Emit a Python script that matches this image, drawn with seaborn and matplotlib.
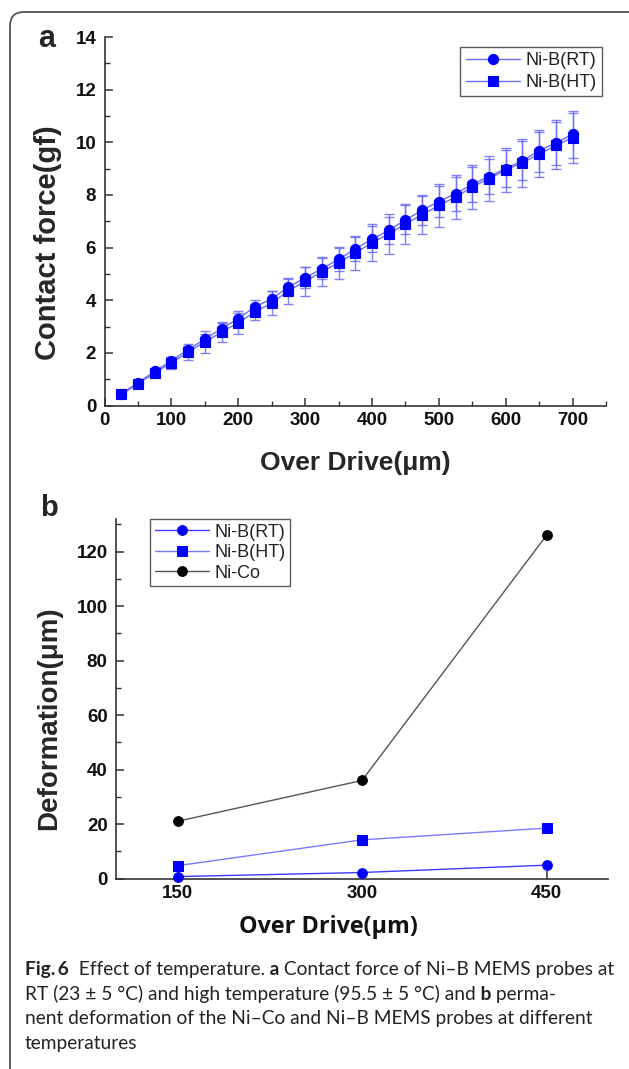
import numpy as np
import pandas as pd
import matplotlib
matplotlib.use("Agg")
import matplotlib.pyplot as plt
import seaborn as sns
from matplotlib.ticker import MultipleLocator
from matplotlib.path import Path
from matplotlib.patches import PathPatch

# ---- data: panel a (contact force vs over drive) ----
over_drive_a = [25, 50, 75, 100, 125, 150, 175, 200, 225, 250, 275, 300, 325, 350,
                375, 400, 425, 450, 475, 500, 525, 550, 575, 600, 625, 650, 675, 700]
force_rt = [0.45, 0.86, 1.30, 1.70, 2.12, 2.52, 2.92, 3.30, 3.75, 4.05, 4.50, 4.85, 5.20, 5.55,
            5.95, 6.32, 6.65, 7.05, 7.42, 7.75, 8.05, 8.40, 8.70, 9.00, 9.30, 9.68, 9.98, 10.30]
force_ht = [0.42, 0.82, 1.25, 1.62, 2.02, 2.42, 2.78, 3.15, 3.55, 3.90, 4.35, 4.72, 5.08, 5.42,
            5.80, 6.18, 6.52, 6.90, 7.25, 7.60, 7.92, 8.30, 8.62, 8.95, 9.22, 9.55, 9.88, 10.18]
err_rt = [0.08, 0.10, 0.12, 0.15, 0.15, 0.18, 0.20, 0.20, 0.25, 0.30, 0.30, 0.40, 0.40, 0.45,
          0.45, 0.50, 0.50, 0.55, 0.55, 0.60, 0.65, 0.65, 0.65, 0.70, 0.75, 0.80, 0.85, 0.90]
err_ht = [0.10, 0.12, 0.15, 0.22, 0.30, 0.42, 0.38, 0.45, 0.30, 0.45, 0.50, 0.55, 0.55, 0.60,
          0.65, 0.70, 0.75, 0.75, 0.75, 0.80, 0.85, 0.85, 0.85, 0.85, 0.90, 0.85, 0.90, 0.95]

# ---- data: panel b (permanent deformation) ----
over_drive_b = [150, 300, 450]
deform_rt = [0.7, 2.2, 4.9]
deform_ht = [4.7, 14.2, 18.5]
deform_nico = [21.0, 36.0, 126.0]

W, H = 629, 1069

sns.set_theme(style="ticks")
plt.rcParams["font.family"] = ["Liberation Sans", "DejaVu Sans"]
plt.rcParams["xtick.direction"] = "in"
plt.rcParams["ytick.direction"] = "in"
plt.rcParams["axes.edgecolor"] = "#333333"

fig = plt.figure(figsize=(W / 100, H / 100), dpi=100)
fig.patch.set_facecolor("white")


def px_axes(left, right, top, bottom):
    return fig.add_axes([left / W, 1 - bottom / H, (right - left) / W, (bottom - top) / H])


def style_axes(ax, size=13.5):
    sns.despine(ax=ax)
    for s in ["left", "bottom"]:
        ax.spines[s].set_linewidth(1.2)
    ax.tick_params(which="major", length=6, width=1.1, color="#333333", labelsize=size)
    ax.tick_params(which="minor", length=3.5, width=1.0, color="#333333")
    ax.tick_params(axis="y", pad=6)
    ax.tick_params(axis="x", pad=5)
    for lab in ax.get_xticklabels() + ax.get_yticklabels():
        lab.set_fontweight("bold")
        lab.set_color("#111111")


def style_legend(leg):
    leg.get_frame().set_edgecolor("#333333")
    leg.get_frame().set_linewidth(1.0)
    for t in leg.get_texts():
        t.set_color("#222222")


blue = "#0000ff"
light = "#6b6bff"

# ---------------- panel a ----------------
ax_a = px_axes(104.5, 606, 37, 405.5)
df_a = pd.DataFrame({"x": over_drive_a * 2,
                     "y": force_rt + force_ht,
                     "series": ["Ni-B(RT)"] * len(over_drive_a) + ["Ni-B(HT)"] * len(over_drive_a)})

for name, errs, mk in [("Ni-B(RT)", err_rt, "o"), ("Ni-B(HT)", err_ht, "s")]:
    sub = df_a[df_a["series"] == name]
    ax_a.errorbar(sub["x"], sub["y"], yerr=errs, fmt="none", ecolor=light,
                  elinewidth=1.0, capsize=3.5, capthick=1.0, alpha=0.85, zorder=2)
    sns.lineplot(data=sub, x="x", y="y", ax=ax_a, color=light, linewidth=1.0,
                 marker=mk, markersize=7.3, markerfacecolor=blue, markeredgecolor=blue,
                 markeredgewidth=0.8, label=name, errorbar=None, zorder=3)

ax_a.set_xlim(0, 750)
ax_a.set_ylim(0, 14)
ax_a.xaxis.set_major_locator(MultipleLocator(100))
ax_a.xaxis.set_minor_locator(MultipleLocator(50))
ax_a.yaxis.set_major_locator(MultipleLocator(2))
ax_a.yaxis.set_minor_locator(MultipleLocator(1))
style_axes(ax_a)
ax_a.set_xlabel("Over Drive(\u03bcm)", fontsize=19, fontweight="bold", va="center")
ax_a.set_ylabel("Contact force(gf)", fontsize=21, fontweight="bold", va="center")
ax_a.xaxis.set_label_coords(0.4995, -0.156)
ax_a.yaxis.set_label_coords(-0.1117, 0.441)
leg = ax_a.legend(loc="upper right", bbox_to_anchor=(1 - 4 / 501.5, 1 - 10 / 368.5),
                  fontsize=13, frameon=True, fancybox=False, handlelength=3.0,
                  handletextpad=0.3, borderpad=0.3, labelspacing=0.25, borderaxespad=0)
style_legend(leg)

# ---------------- panel b ----------------
ax_b = px_axes(116, 608, 519, 878.5)
df_b = pd.DataFrame({"x": over_drive_b * 3,
                     "y": deform_rt + deform_ht + deform_nico,
                     "series": ["Ni-B(RT)"] * 3 + ["Ni-B(HT)"] * 3 + ["Ni-Co"] * 3})
b_styles = {"Ni-B(RT)": ("#3a3aff", blue, "o"),
            "Ni-B(HT)": ("#7a7aff", blue, "s"),
            "Ni-Co": ("#555555", "black", "o")}
for name, (lc, mc, mk) in b_styles.items():
    sub = df_b[df_b["series"] == name]
    sns.lineplot(data=sub, x="x", y="y", ax=ax_b, color=lc, linewidth=1.0,
                 marker=mk, markersize=7, markerfacecolor=mc, markeredgecolor=mc,
                 label=name, errorbar=None, clip_on=False, zorder=3)

ax_b.set_xlim(100, 500)
ax_b.set_ylim(0, 132)
ax_b.set_xticks(over_drive_b)
ax_b.yaxis.set_major_locator(MultipleLocator(20))
ax_b.yaxis.set_minor_locator(MultipleLocator(10))
style_axes(ax_b)
ax_b.set_xlabel("Over Drive(\u03bcm)", fontsize=16.8, fontweight="bold",
                family=["Open Sans", "DejaVu Sans"], va="center", color="#111111")
ax_b.set_ylabel("Deformation(\u03bcm)", fontsize=20, fontweight="bold", va="center")
ax_b.xaxis.set_label_coords((328 - 116) / 492, -0.135)
ax_b.yaxis.set_label_coords(-0.136, 0.4465)
leg = ax_b.legend(loc="upper left", bbox_to_anchor=(34 / 492, 1.0),
                  fontsize=13, frameon=True, fancybox=False, handlelength=3.0,
                  handletextpad=0.3, borderpad=0.25, labelspacing=0.2, borderaxespad=0)
style_legend(leg)

# panel letters
fig.text(47 / W, 1 - 39 / H, "a", fontsize=22, fontweight="bold", ha="center", va="center")
fig.text(49 / W, 1 - 508 / H, "b", fontsize=21, fontweight="bold", ha="center", va="center")

# ---------------- caption ----------------
cap_font = ["Lato", "DejaVu Sans"]
cap_size = 13.8
cap_lines = [
    (975, [("Fig.\u20096", "bold"), ("  Effect of temperature.", "normal"), (" a", "bold"),
           (" Contact force of Ni\u2013B MEMS probes at", "normal")]),
    (1000, [("RT (23 \u00b1 5 \u00b0C) and high temperature (95.5 \u00b1 5 \u00b0C) and", "normal"),
            (" b", "bold"), (" perma-", "normal")]),
    (1024, [("nent deformation of the Ni\u2013Co and Ni\u2013B MEMS probes at different", "normal")]),
    (1049, [("temperatures", "normal")]),
]
renderer = fig.canvas.get_renderer()
for y, runs in cap_lines:
    x = 25
    for text, weight in runs:
        t = fig.text(x / W, 1 - y / H, text, fontsize=cap_size, fontweight=weight,
                     family=cap_font, va="baseline", ha="left", color="#222222")
        x += t.get_window_extent(renderer).width

# ---------------- frame (top + left, rounded corner) ----------------
r = 14
verts = [(10, H + 5), (10, 12 + r), (10, 12), (10 + r, 12), (W + 5, 12)]
codes = [Path.MOVETO, Path.LINETO, Path.CURVE3, Path.CURVE3, Path.LINETO]
verts = [(vx / W, 1 - vy / H) for vx, vy in verts]
fig.patches.append(PathPatch(Path(verts, codes), transform=fig.transFigure,
                             facecolor="none", edgecolor="#555555", linewidth=1.3))

fig.savefig("out.png", dpi=100)
